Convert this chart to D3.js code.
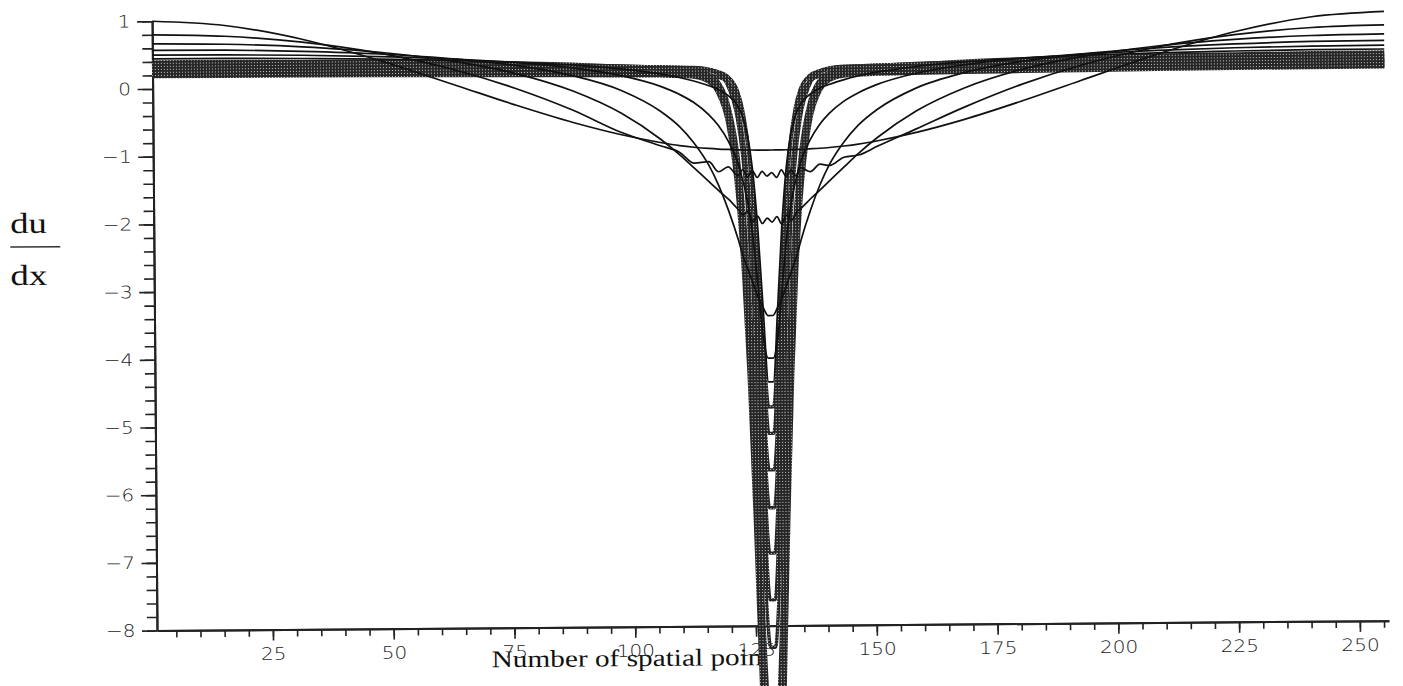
<!DOCTYPE html>
<html>
<head>
<meta charset="utf-8">
<script src="https://cdn.jsdelivr.net/npm/d3@7"></script>
<style>
    body { margin: 0; background: #fff; }
    svg { display: block; }
</style>
</head>
<body>
<script>
const WIDTH = 1403;
const HEIGHT = 686;
const SCAN_TILT = -0.46; // the scanned page is slightly rotated

// spatial points (denser near the shock in the middle)
const x_points = [1, 16, 32, 48, 64, 76, 88, 98, 106, 110, 113, 116, 118, 120, 122, 123, 124, 125, 126, 127, 128,
    129, 130, 131, 132, 133, 134, 135, 137, 139, 141, 144, 147, 151, 159, 169, 181, 193, 209, 225, 241, 256];

const x_major_ticks = [25, 50, 75, 100, 125, 150, 175, 200, 225, 250];
const y_major_ticks = [-8, -7, -6, -5, -4, -3, -2, -1, 0, 1];

// du/dx, one array per time step
const du_t0 = [1.000, 0.929, 0.716, 0.394, 0.012, -0.278, -0.545, -0.732, -0.851, -0.899, -0.925, -0.945, -0.955, -0.962, -0.968, -0.970, -0.972, -0.973, -0.974, -0.975, -0.975,
    -0.975, -0.975, -0.974, -0.973, -0.972, -0.970, -0.968, -0.962, -0.955, -0.945, -0.925, -0.899, -0.851, -0.732, -0.545, -0.278, 0.012, 0.394, 0.716, 0.929, 1.000];
const du_t1 = [0.800, 0.770, 0.673, 0.501, 0.237, -0.032, -0.365, -0.70, -0.90, -1.00, -1.16, -1.14, -1.29, -1.22, -1.35, -1.26, -1.37, -1.28, -1.38, -1.29, -1.36,
    -1.31, -1.38, -1.27, -1.37, -1.27, -1.36, -1.24, -1.30, -1.19, -1.21, -1.09, -1.06, -0.93, -0.68, -0.365, -0.032, 0.237, 0.501, 0.673, 0.770, 0.800];
const du_t2 = [0.667, 0.652, 0.604, 0.515, 0.363, 0.188, -0.081, -0.416, -0.800, -1.035, -1.233, -1.435, -1.568, -1.697, -1.85, -1.93, -1.88, -2.03, -1.95, -2.06, -1.98,
    -2.04, -1.96, -2.07, -1.94, -2.02, -1.90, -1.84, -1.70, -1.57, -1.435, -1.233, -1.035, -0.800, -0.416, -0.081, 0.188, 0.363, 0.515, 0.604, 0.652, 0.667];
const du_t3 = [0.571, 0.564, 0.537, 0.489, 0.405, 0.305, 0.145, -0.078, -0.386, -0.619, -0.865, -1.192, -1.491, -1.862, -2.30, -2.55, -2.75, -2.95, -3.15, -3.30, -3.42,
    -3.42, -3.30, -3.15, -2.95, -2.75, -2.55, -2.30, -1.862, -1.491, -1.192, -0.865, -0.619, -0.386, -0.078, 0.145, 0.305, 0.405, 0.489, 0.537, 0.564, 0.571];
const du_t4 = [0.500, 0.495, 0.480, 0.452, 0.404, 0.349, 0.260, 0.141, -0.019, -0.142, -0.265, -0.441, -0.603, -0.830, -1.16, -1.42, -1.75, -2.25, -3.00, -3.75, -4.05,
    -4.05, -3.75, -3.00, -2.25, -1.75, -1.42, -1.16, -0.830, -0.603, -0.441, -0.265, -0.142, -0.019, 0.141, 0.260, 0.349, 0.404, 0.452, 0.480, 0.495, 0.500];
const du_t5 = [0.444, 0.442, 0.432, 0.415, 0.386, 0.354, 0.304, 0.241, 0.162, 0.107, 0.053, -0.014, -0.072, -0.16, -0.31, -0.47, -0.74, -1.24, -2.10, -3.31, -4.40,
    -4.40, -3.31, -2.10, -1.24, -0.74, -0.47, -0.31, -0.16, -0.072, -0.014, 0.053, 0.107, 0.162, 0.241, 0.304, 0.354, 0.386, 0.415, 0.432, 0.442, 0.444];
const du_t6 = [0.400, 0.398, 0.389, 0.380, 0.361, 0.341, 0.314, 0.274, 0.235, 0.209, 0.183, 0.154, 0.11, 0.04, -0.18, -0.42, -0.84, -1.55, -2.60, -3.84, -4.77,
    -4.77, -3.84, -2.60, -1.55, -0.84, -0.42, -0.18, 0.04, 0.11, 0.154, 0.183, 0.209, 0.235, 0.274, 0.314, 0.341, 0.361, 0.380, 0.389, 0.398, 0.400];
const du_t7 = [0.364, 0.362, 0.358, 0.350, 0.338, 0.325, 0.305, 0.285, 0.259, 0.247, 0.235, 0.220, 0.19, 0.12, -0.09, -0.35, -0.81, -1.60, -2.76, -4.13, -5.16,
    -5.16, -4.13, -2.76, -1.60, -0.81, -0.35, -0.09, 0.12, 0.19, 0.220, 0.235, 0.247, 0.259, 0.285, 0.305, 0.325, 0.338, 0.350, 0.358, 0.362, 0.364];
const du_t8 = [0.333, 0.332, 0.329, 0.324, 0.316, 0.306, 0.295, 0.280, 0.267, 0.256, 0.245, 0.22, 0.18, 0.05, -0.34, -0.74, -1.38, -2.32, -3.55, -4.83, -5.70,
    -5.70, -4.83, -3.55, -2.32, -1.38, -0.74, -0.34, 0.05, 0.18, 0.22, 0.245, 0.256, 0.267, 0.280, 0.295, 0.306, 0.316, 0.324, 0.329, 0.332, 0.333];
const du_t9 = [0.308, 0.307, 0.305, 0.301, 0.295, 0.289, 0.280, 0.271, 0.261, 0.257, 0.253, 0.23, 0.18, 0.04, -0.38, -0.82, -1.52, -2.55, -3.90, -5.30, -6.26,
    -6.26, -5.30, -3.90, -2.55, -1.52, -0.82, -0.38, 0.04, 0.18, 0.23, 0.253, 0.257, 0.261, 0.271, 0.280, 0.289, 0.295, 0.301, 0.305, 0.307, 0.308];
const du_t10 = [0.286, 0.285, 0.283, 0.281, 0.276, 0.272, 0.266, 0.260, 0.253, 0.249, 0.246, 0.22, 0.17, 0.02, -0.44, -0.93, -1.69, -2.83, -4.32, -5.87, -6.93,
    -6.93, -5.87, -4.32, -2.83, -1.69, -0.93, -0.44, 0.02, 0.17, 0.22, 0.246, 0.249, 0.253, 0.260, 0.266, 0.272, 0.276, 0.281, 0.283, 0.285, 0.286];
const du_t11 = [0.267, 0.266, 0.265, 0.263, 0.259, 0.256, 0.252, 0.247, 0.244, 0.241, 0.239, 0.21, 0.16, -0.01, -0.51, -1.04, -1.89, -3.14, -4.77, -6.47, -7.62,
    -7.62, -6.47, -4.77, -3.14, -1.89, -1.04, -0.51, -0.01, 0.16, 0.21, 0.239, 0.241, 0.244, 0.247, 0.252, 0.256, 0.259, 0.263, 0.265, 0.266, 0.267];
const du_t12 = [0.250, 0.250, 0.249, 0.247, 0.244, 0.242, 0.239, 0.236, 0.233, 0.231, 0.215, 0.16, 0.05, -0.26, -1.03, -1.74, -2.77, -4.16, -5.78, -7.34, -8.32,
    -8.32, -7.34, -5.78, -4.16, -2.77, -1.74, -1.03, -0.26, 0.05, 0.16, 0.215, 0.231, 0.233, 0.236, 0.239, 0.242, 0.244, 0.247, 0.249, 0.250, 0.250];
const du_t13 = [0.222, 0.221, 0.218, 0.214, 0.209, 0.204, 0.198, 0.192, 0.186, 0.180, 0.165, 0.11, -0.01, -0.36, -1.25, -2.08, -3.26, -4.87, -6.76, -8.56, -9.70,
    -9.70, -8.56, -6.76, -4.87, -3.26, -2.08, -1.25, -0.36, -0.01, 0.11, 0.165, 0.180, 0.186, 0.192, 0.198, 0.204, 0.209, 0.214, 0.218, 0.221, 0.222];
const du_t14 = [0.200, 0.198, 0.195, 0.190, 0.184, 0.178, 0.172, 0.165, 0.158, 0.152, 0.135, 0.07, -0.07, -0.47, -1.48, -2.42, -3.76, -5.60, -7.74, -9.80, -11.10,
    -11.10, -9.80, -7.74, -5.60, -3.76, -2.42, -1.48, -0.47, -0.07, 0.07, 0.135, 0.152, 0.158, 0.165, 0.172, 0.178, 0.184, 0.190, 0.195, 0.198, 0.200];
const du_t15 = [0.182, 0.180, 0.176, 0.170, 0.163, 0.156, 0.148, 0.140, 0.133, 0.125, 0.11, 0.04, -0.13, -0.58, -1.72, -2.78, -4.30, -6.34, -8.75, -11.05, -12.50,
    -12.50, -11.05, -8.75, -6.34, -4.30, -2.78, -1.72, -0.58, -0.13, 0.04, 0.11, 0.125, 0.133, 0.140, 0.148, 0.156, 0.163, 0.170, 0.176, 0.180, 0.182];

const thin_curves = [du_t0, du_t1, du_t2, du_t3, du_t4, du_t5];
const band_curves = [du_t6, du_t7, du_t8, du_t9, du_t10, du_t11, du_t12, du_t13, du_t14, du_t15];

const svg = d3.select("body")
    .append("svg")
    .attr("width", WIDTH)
    .attr("height", HEIGHT);

// scanned look of the dense curves
const stipple = svg.append("defs").append("pattern")
    .attr("id", "stipple")
    .attr("width", 3).attr("height", 3)
    .attr("patternUnits", "userSpaceOnUse");
stipple.append("rect").attr("width", 3).attr("height", 3).attr("fill", "#262626");
stipple.append("rect").attr("x", 1).attr("y", 1).attr("width", 1).attr("height", 1).attr("fill", "#c8c8c8");

const page = svg.append("g")
    .attr("transform", `rotate(${SCAN_TILT}, 770, 330)`);

const x = d3.scaleLinear().domain([1, 256]).range([154.6, 1386.5]);
const y = d3.scaleLinear().domain([-8, 1]).range([625.6, 16.3]);

// y label as a fraction
const label_font = "'Liberation Serif', 'Times New Roman', serif";
page.append("text")
    .attr("transform", "translate(11,227) scale(1.27,1)")
    .style("font-family", label_font).style("font-size", "29px").attr("fill", "#111")
    .text("du");
page.append("line")
    .attr("x1", 11).attr("x2", 61).attr("y1", 241).attr("y2", 241)
    .attr("stroke", "#333").attr("stroke-width", 1.5);
page.append("text")
    .attr("transform", "translate(11,279) scale(1.27,1)")
    .style("font-family", label_font).style("font-size", "29px").attr("fill", "#111")
    .text("dx");

// x label (the curves are drawn over its end)
page.append("text")
    .attr("transform", "translate(489,665) scale(1.22,1)")
    .style("font-family", label_font).style("font-size", "24px").attr("fill", "#111")
    .text("Number of spatial poin");

// axes
const style_axis = function (g) {
    g.select(".domain").attr("stroke", "#222").attr("stroke-width", 2);
    g.selectAll(".tick line").attr("stroke", "#222").attr("stroke-width", 1.6);
    g.selectAll("text")
        .style("font-family", "'DejaVu Sans', sans-serif")
        .style("font-size", "17px")
        .style("font-weight", 300)
        .attr("fill", "#222");
};

const x_axis_g = page.append("g").attr("transform", `translate(0,${y(-8)})`);
x_axis_g.append("g")
    .call(d3.axisBottom(x).tickValues(d3.range(5, 256, 5)).tickSize(7).tickSizeOuter(0).tickFormat(""))
    .call(style_axis);
x_axis_g.append("g")
    .call(d3.axisBottom(x).tickValues(x_major_ticks).tickSize(11).tickSizeOuter(0).tickPadding(7))
    .call(style_axis)
    .selectAll("text").attr("transform", "scale(1.18,1)");

const y_axis_g = page.append("g").attr("transform", `translate(${x(1)},0)`);
y_axis_g.append("g")
    .call(d3.axisLeft(y).tickValues(d3.range(-40, 6).map(i => i / 5)).tickSize(10).tickSizeOuter(0).tickFormat(""))
    .call(style_axis);
y_axis_g.append("g")
    .call(d3.axisLeft(y).tickValues(y_major_ticks).tickSize(15).tickSizeOuter(0).tickPadding(3.3).tickFormat(d3.format("d")))
    .call(style_axis)
    .selectAll("text").attr("transform", "scale(1.18,1)");

// curves
const line = d3.line()
    .x((d, i) => x(x_points[i]))
    .y(d => y(d))
    .curve(d3.curveMonotoneX);

page.append("g")
    .attr("class", "Band")
    .selectAll("path")
    .data(band_curves)
    .enter()
    .append("path")
    .attr("d", line)
    .attr("fill", "none")
    .attr("stroke", "url(#stipple)")
    .attr("stroke-width", 3.4);

page.append("g")
    .attr("class", "Thin")
    .selectAll("path")
    .data(thin_curves)
    .enter()
    .append("path")
    .attr("d", line)
    .attr("fill", "none")
    .attr("stroke", "#111")
    .attr("stroke-width", 1.7);
</script>
</body>
</html>
